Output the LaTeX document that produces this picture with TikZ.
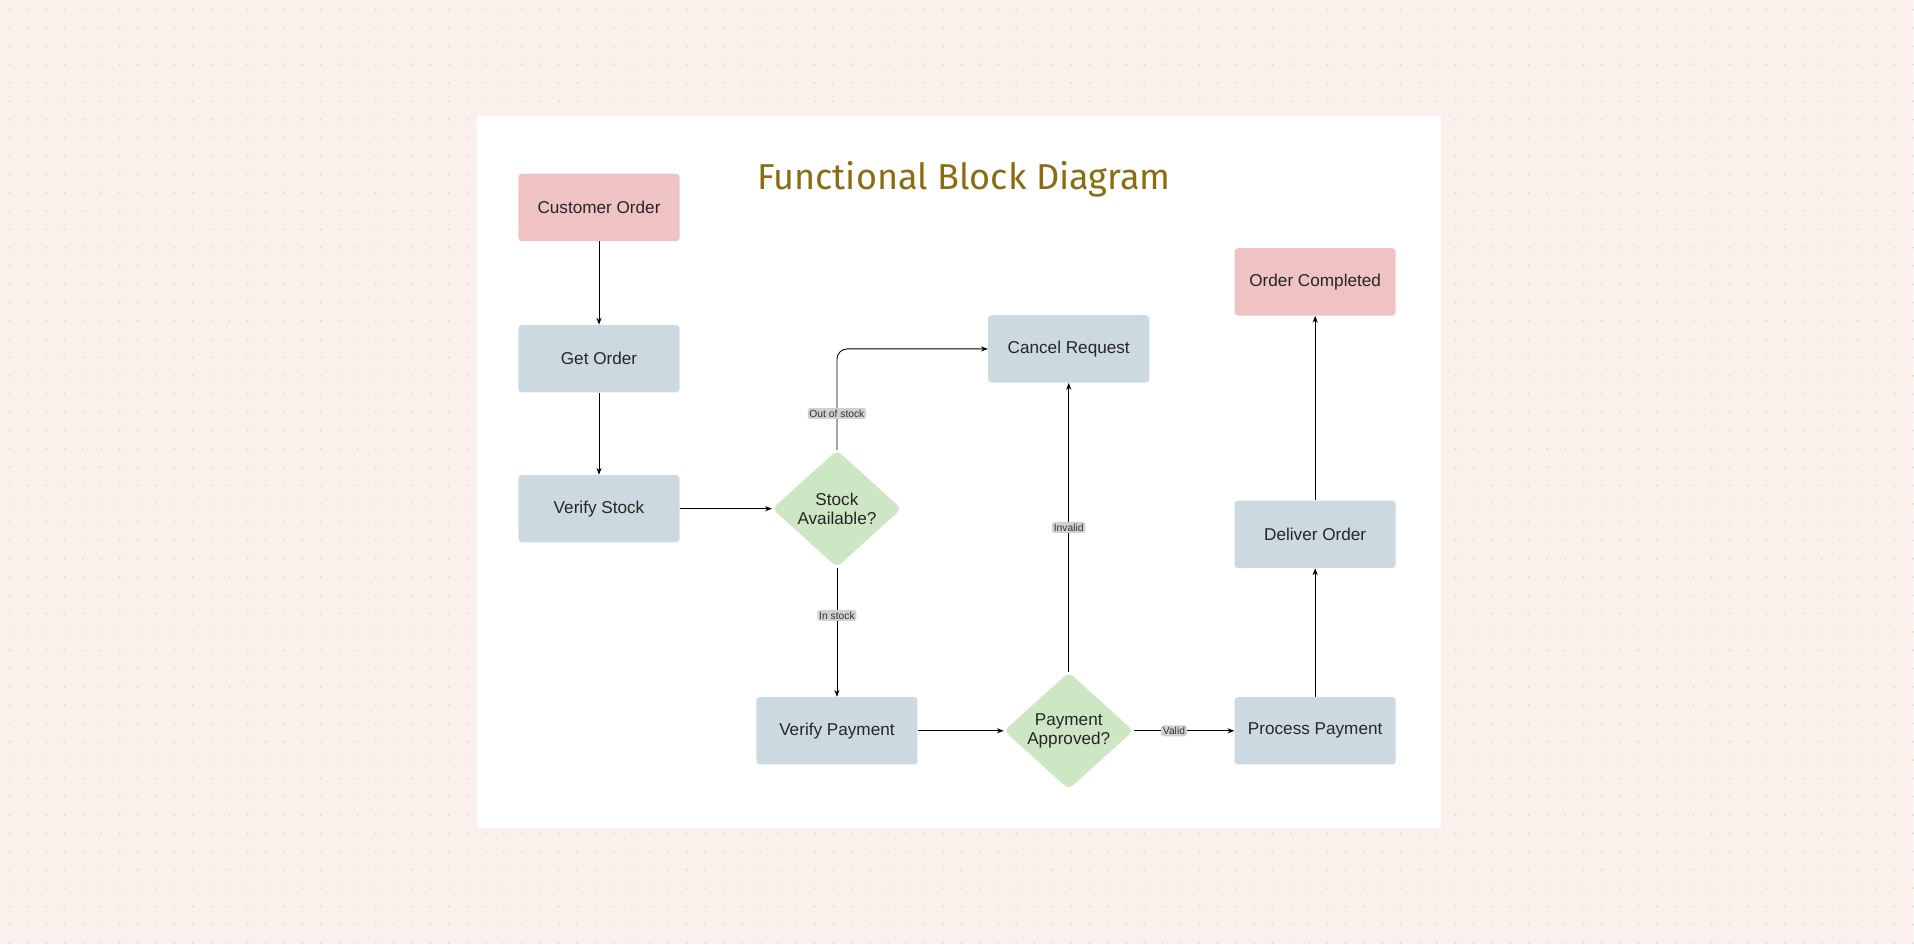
\documentclass[tikz,border=0pt]{standalone}
\usepackage{fontspec}
\setmainfont{Liberation Sans}
\newfontfamily\titlefont{Fira Sans}
\usetikzlibrary{shapes.geometric,arrows.meta}
\definecolor{bgpink}{HTML}{FBF0EC}
\definecolor{dotcol}{HTML}{EAD9D3}
\definecolor{boxpink}{HTML}{EFC3C4}
\definecolor{boxblue}{HTML}{CDD9E1}
\definecolor{decgreen}{HTML}{CDE7C4}
\definecolor{titlecol}{HTML}{8A6D12}
\tikzset{
  block/.style={rectangle,rounded corners=2pt,minimum width=3.3cm,minimum height=1.38cm,font=\fontsize{10}{12}\selectfont,text=black!85},
  startblock/.style={block,fill=boxpink},
  workblock/.style={block,fill=boxblue},
  decision/.style={diamond,rounded corners=3pt,fill=decgreen,minimum width=2.65cm,minimum height=2.4cm,aspect=1.1,inner sep=0pt,align=center,font=\fontsize{10}{11}\selectfont,text=black!85},
  flow/.style={-{Stealth[length=4pt,width=3pt]},line width=0.5pt},
  tag/.style={fill=black!18,rounded corners=1pt,inner sep=1pt,font=\fontsize{6}{7}\selectfont,text=black!80}
}
\begin{document}
\begin{tikzpicture}[x=0.025cm,y=-0.025cm]
      % the canvas
      \fill[bgpink] (0,0) rectangle (1568,774);
      \foreach \x in {8,23,...,1568}
      \foreach \y in {8,23,...,774}
      {
        \fill[dotcol] (\x,\y) circle (0.6pt);
      }
      \fill[white] (391,95) rectangle (1181,679);
      \node[font=\titlefont\fontsize{21}{24}\selectfont,text=titlecol] (title) at (790,147) {Functional Block Diagram};
      %% the blocks
      \node[startblock] (custorder) at (491,170) {Customer Order};
      \node[workblock] (getorder) at (491,294) {Get Order};
      \node[workblock] (verstock) at (491,417) {Verify Stock};
      \node[decision] (stockok) at (686,417) {Stock\\Available?};
      \node[workblock] (cancel) at (876,286) {Cancel Request};
      \node[workblock] (verpay) at (686,599) {Verify Payment};
      \node[decision] (payok) at (876,599) {Payment\\Approved?};
      \node[workblock] (procpay) at (1078,599) {Process Payment};
      \node[workblock] (deliver) at (1078,438) {Deliver Order};
      \node[startblock] (done) at (1078,231) {Order Completed};
      %% the flow
      \draw[flow] (custorder) -- (getorder);
      \draw[flow] (getorder) -- (verstock);
      \draw[flow] (verstock) -- (stockok);
      \draw[flow,rounded corners=6pt] (stockok.north) |- (cancel.west)
        node[tag,pos=0.18] {Out of stock};
      \draw[flow] (stockok.south) -- (verpay.north)
        node[tag,pos=0.37] {In stock};
      \draw[flow] (verpay) -- (payok);
      \draw[flow] (payok.north) -- (cancel.south) node[tag,midway] {Invalid};
      \draw[flow] (payok.east) -- (procpay.west) node[tag,pos=0.4] {Valid};
      \draw[flow] (procpay) -- (deliver);
      \draw[flow] (deliver) -- (done);
\end{tikzpicture}
\end{document}
